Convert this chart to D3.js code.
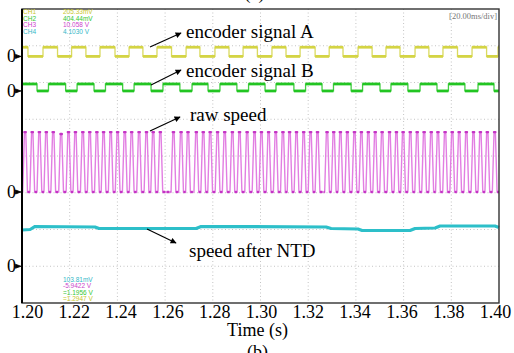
<!DOCTYPE html>
<html>
<head>
<meta charset="utf-8">
<script src="https://cdn.jsdelivr.net/npm/d3@7"></script>
<style>
  body { margin: 0; background: #fff; }
  svg { display: block; }
  .serif { font-family: "Liberation Serif", "Times New Roman", serif; }
  .readout { font-family: "Liberation Sans", Arial, sans-serif; font-size: 6.5px; }
</style>
</head>
<body>
<svg id="chart" width="514" height="353"></svg>
<script>
// ---- time axis (s) ----
const timeTicks = [1.20, 1.22, 1.24, 1.26, 1.28, 1.30, 1.32, 1.34, 1.36, 1.38, 1.40];
const tickLabels = ["1.20", "1.22", "1.24", "1.26", "1.28", "1.30", "1.32", "1.34", "1.36", "1.38", "1.40"];

// ---- encoder A: level at t=1.20 s, then the times (s) at which it toggles ----
const encA_start = 1;
const encA_edges = [1.2025, 1.2088, 1.2149, 1.2208, 1.2268, 1.2327, 1.2390, 1.2449, 1.2507, 1.2566,
  1.2627, 1.2688, 1.2746, 1.2809, 1.2868, 1.2927, 1.2987, 1.3048, 1.3107, 1.3166, 1.3229, 1.3288,
  1.3346, 1.3409, 1.3468, 1.3526, 1.3585, 1.3648, 1.3706, 1.3765, 1.3826, 1.3887, 1.3948, 1.3996];

// ---- encoder B ----
const encB_start = 1;
const encB_edges = [1.2063, 1.2111, 1.2183, 1.2231, 1.2302, 1.2350, 1.2422, 1.2470, 1.2541, 1.2591,
  1.2662, 1.2713, 1.2780, 1.2830, 1.2901, 1.2950, 1.3019, 1.3065, 1.3140, 1.3189, 1.3258, 1.3306,
  1.3380, 1.3428, 1.3501, 1.3547, 1.3618, 1.3669, 1.3740, 1.3788, 1.3857, 1.3912, 1.3979];

// ---- raw speed: pulse centre times (s) and pulse heights (div) ----
const rawPulseTimes = [1.2013, 1.2043, 1.2073, 1.2102, 1.2131, 1.2164, 1.2195, 1.2224, 1.2255, 1.2284,
  1.2314, 1.2342, 1.2372, 1.2401, 1.2431, 1.2460, 1.2491, 1.2522, 1.2550, 1.2580, 1.2635, 1.2667,
  1.2696, 1.2731, 1.2760, 1.2789, 1.2820, 1.2850, 1.2882, 1.2912, 1.2944, 1.2975, 1.3004, 1.3034,
  1.3064, 1.3094, 1.3122, 1.3151, 1.3181, 1.3210, 1.3239, 1.3279, 1.3307, 1.3335, 1.3364, 1.3394,
  1.3423, 1.3452, 1.3481, 1.3510, 1.3541, 1.3570, 1.3598, 1.3628, 1.3657, 1.3686, 1.3716, 1.3744,
  1.3774, 1.3804, 1.3833, 1.3863, 1.3893, 1.3922, 1.3951, 1.3982];
const rawPulseHeights = [1.63, 1.63, 1.63, 1.63, 1.63, 1.58, 1.63, 1.63, 1.63, 1.63,
  1.63, 1.63, 1.63, 1.63, 1.63, 1.63, 1.63, 1.63, 1.63, 1.63, 1.63, 1.63,
  1.63, 1.63, 1.63, 1.63, 1.63, 1.63, 1.63, 1.63, 1.63, 1.63, 1.63, 1.63,
  1.63, 1.63, 1.63, 1.63, 1.63, 1.63, 1.63, 1.63, 1.63, 1.63, 1.63, 1.63,
  1.63, 1.63, 1.63, 1.63, 1.63, 1.63, 1.63, 1.63, 1.63, 1.63, 1.63, 1.63,
  1.63, 1.63, 1.63, 1.63, 1.63, 1.63, 1.63, 1.63];

// ---- speed after NTD (div above its ground marker) ----
const ntdTimes = [1.2000, 1.2034, 1.2055, 1.2306, 1.2323, 1.2730, 1.2751, 1.3275, 1.3296, 1.3409,
  1.3426, 1.3627, 1.3648, 1.3732, 1.3753, 1.3983, 1.4000];
const ntdValues = [0.986, 1.000, 1.082, 1.068, 1.027, 1.027, 1.082, 1.068, 1.027, 1.014,
  0.973, 0.973, 1.027, 1.041, 1.095, 1.095, 1.054];

// ---- channel read-outs ----
const chNames = ["CH1", "CH2", "CH3", "CH4"];
const chScales = ["205.33mV", "404.44mV", "10.058 V", "4.1030 V"];
const cursorValues = ["103.81mV", "-5.9422 V", "=1.1956 V", "=1.2947 V"];

// ---- layout ----
const box = { left: 22, right: 499, top: 9, bottom: 303 };
const colors = { A: "#d4d444", B: "#22c522", rawEdge: "#e27ee2", rawDark: "#c434c4", ntd: "#2dbfc9" };
const ch = {
  A:   { offset: 6.71, gain: 0.25 },
  B:   { offset: 5.77, gain: 0.19 },
  raw: { offset: 3.02 },
  ntd: { offset: 1.00 }
};

const svg = d3.select("#chart");
const x = d3.scaleLinear().domain([1.2, 1.4]).range([box.left, box.right]);
const xLab = d3.scaleLinear().domain([1.2, 1.4]).range([27, 495]);
const y = d3.scaleLinear().domain([0, 8]).range([box.bottom, box.top]);

// ---- graticule ----
const grid = svg.append("g").attr("stroke", "#c4c4c4").attr("stroke-width", 1).attr("stroke-dasharray", "1,2.5");
grid.selectAll(".gv").data(timeTicks.slice(1, -1)).join("line")
  .attr("x1", d => x(d)).attr("x2", d => x(d)).attr("y1", box.top).attr("y2", box.bottom);
grid.selectAll(".gh").data(d3.range(1, 8)).join("line")
  .attr("x1", box.left).attr("x2", box.right).attr("y1", d => y(d)).attr("y2", d => y(d));

// ---- traces ----
function stepPoints(start, edges) {
  const pts = [[1.2, start]];
  let lvl = start;
  edges.forEach(t => { pts.push([t, lvl]); lvl = 1 - lvl; pts.push([t, lvl]); });
  pts.push([1.4, lvl]);
  return pts;
}
function drawEncoder(start, edges, c, color) {
  const pts = stepPoints(start, edges);
  const line = d3.line().x(d => x(d[0])).y(d => y(c.offset + d[1] * c.gain));
  svg.append("path").attr("d", line(pts)).attr("fill", "none")
    .attr("stroke", color).attr("stroke-width", 1.3).attr("opacity", 0.85);
  const segs = [];
  for (let i = 0; i < pts.length - 1; i += 2) segs.push([pts[i], pts[i + 1]]);
  svg.append("g").selectAll("line").data(segs).join("line")
    .attr("x1", d => x(d[0][0])).attr("x2", d => x(d[1][0]))
    .attr("y1", d => y(c.offset + d[0][1] * c.gain)).attr("y2", d => y(c.offset + d[1][1] * c.gain))
    .attr("stroke", color).attr("stroke-width", 2.8);
}
drawEncoder(encA_start, encA_edges, ch.A, colors.A);
drawEncoder(encB_start, encB_edges, ch.B, colors.B);

// raw speed pulses
const baseHalf = 0.0010, topHalf = 0.00028;
const rawPts = [[1.2, 0]];
rawPulseTimes.forEach((t, i) => {
  rawPts.push([t - baseHalf, 0], [t - topHalf, rawPulseHeights[i]], [t + topHalf, rawPulseHeights[i]], [t + baseHalf, 0]);
});
rawPts.push([1.4, 0]);
const rawLine = d3.line().x(d => x(d[0])).y(d => y(ch.raw.offset + d[1]));
svg.append("path").attr("d", rawLine(rawPts)).attr("fill", "none")
  .attr("stroke", colors.rawEdge).attr("stroke-width", 1.4);
// dwell points at the tops and along the base
svg.append("g").selectAll("line").data(rawPulseTimes).join("line")
  .attr("x1", d => x(d - topHalf)).attr("x2", d => x(d + topHalf))
  .attr("y1", (d, i) => y(ch.raw.offset + rawPulseHeights[i])).attr("y2", (d, i) => y(ch.raw.offset + rawPulseHeights[i]))
  .attr("stroke", colors.rawDark).attr("stroke-width", 2.4).attr("stroke-linecap", "round");
const gaps = [[1.2, rawPulseTimes[0] - baseHalf]];
for (let i = 0; i < rawPulseTimes.length - 1; i++) gaps.push([rawPulseTimes[i] + baseHalf, rawPulseTimes[i + 1] - baseHalf]);
gaps.push([rawPulseTimes[rawPulseTimes.length - 1] + baseHalf, 1.4]);
svg.append("g").selectAll("line").data(gaps).join("line")
  .attr("x1", d => x(d[0])).attr("x2", d => x(d[1]))
  .attr("y1", y(ch.raw.offset)).attr("y2", y(ch.raw.offset))
  .attr("stroke", colors.rawDark).attr("stroke-width", 2.4).attr("stroke-dasharray", "2.5,1.5");

// speed after NTD
const ntdLine = d3.line().x((d, i) => x(ntdTimes[i])).y(d => y(ch.ntd.offset + d));
svg.append("path").attr("d", ntdLine(ntdValues)).attr("fill", "none")
  .attr("stroke", colors.ntd).attr("stroke-width", 3.2).attr("stroke-linejoin", "round");

// ---- frame ----
svg.append("rect").attr("x", box.left).attr("y", box.top)
  .attr("width", box.right - box.left).attr("height", box.bottom - box.top)
  .attr("fill", "none").attr("stroke", "#333").attr("stroke-width", 1.4);
svg.append("line").attr("x1", box.left).attr("x2", box.left).attr("y1", box.top).attr("y2", box.bottom)
  .attr("stroke", "#000").attr("stroke-width", 2);

// ---- channel ground markers ----
const grounds = [ch.A.offset, ch.B.offset, ch.raw.offset, ch.ntd.offset];
const gm = svg.append("g");
gm.selectAll("text").data(grounds).join("text").attr("class", "serif")
  .attr("x", 16).attr("y", d => y(d) + 6).attr("text-anchor", "end")
  .attr("font-size", 18).attr("fill", "#000").text("0");
gm.selectAll("path").data(grounds).join("path")
  .attr("d", d => `M15.5,${y(d) - 2}L21,${y(d)}L15.5,${y(d) + 2}Z`)
  .attr("fill", "#000").attr("stroke", "#000").attr("stroke-width", 0.8);

// ---- x axis labels ----
const axis = svg.append("g").attr("transform", `translate(0,${box.bottom})`)
  .call(d3.axisBottom(xLab).tickValues(timeTicks).tickSize(0).tickFormat((d, i) => tickLabels[i]));
axis.select(".domain").remove();
axis.selectAll("text").attr("class", "serif").attr("y", 15).attr("dy", 0)
  .attr("font-size", 18).attr("fill", "#000");

svg.append("text").attr("class", "serif").attr("x", x(1.3) - 3).attr("y", 336)
  .attr("text-anchor", "middle").attr("font-size", 18).text("Time (s)");
svg.append("text").attr("class", "serif").attr("x", x(1.3) - 3).attr("y", 358)
  .attr("text-anchor", "middle").attr("font-size", 18).text("(b)");
svg.append("text").attr("class", "serif").attr("x", x(1.3) - 6).attr("y", -1)
  .attr("text-anchor", "middle").attr("font-size", 18).text("(a)");

// ---- read-outs ----
const chColors = ["#c8c82e", "#33c833", "#cc44cc", "#33b8c8"];
const ro = svg.append("g").attr("class", "readout");
ro.selectAll(".n").data(chNames).join("text")
  .attr("x", 23).attr("y", (d, i) => 14 + i * 6.6).attr("fill", (d, i) => chColors[i]).text(d => d);
ro.selectAll(".s").data(chScales).join("text")
  .attr("x", 63).attr("y", (d, i) => 14 + i * 6.6).attr("fill", (d, i) => chColors[i]).text(d => d);
const cursorColors = [chColors[3], chColors[2], chColors[1], chColors[0]];
ro.selectAll(".c").data(cursorValues).join("text")
  .attr("x", 63).attr("y", (d, i) => 281.5 + i * 6.6).attr("fill", (d, i) => cursorColors[i]).text(d => d);
svg.append("text").attr("class", "serif").attr("x", 497).attr("y", 19).attr("text-anchor", "end")
  .attr("font-size", 8.5).attr("fill", "#777").text("[20.00ms/div]");

// ---- annotations ----
svg.append("defs").append("marker").attr("id", "ah")
  .attr("viewBox", "0 0 10 10").attr("refX", 9).attr("refY", 5)
  .attr("markerWidth", 7).attr("markerHeight", 6).attr("markerUnits", "userSpaceOnUse")
  .attr("orient", "auto").append("path").attr("d", "M0,0L10,5L0,10Z").attr("fill", "#000");

const notes = [
  { label: "encoder signal A", tail: [1.25367, 6.966], head: [1.26667, 7.347], at: [1.26876, 7.211] },
  { label: "encoder signal B", tail: [1.25409, 5.932], head: [1.26667, 6.340], at: [1.26876, 6.150] },
  { label: "raw speed",        tail: [1.25367, 4.680], head: [1.26625, 5.061], at: [1.27044, 4.952] },
  { label: "speed after NTD",  tail: [1.25241, 2.014], head: [1.26458, 1.633], at: [1.27002, 1.252] }
];
const ng = svg.append("g");
ng.selectAll("line").data(notes).join("line")
  .attr("x1", d => x(d.tail[0])).attr("y1", d => y(d.tail[1]))
  .attr("x2", d => x(d.head[0])).attr("y2", d => y(d.head[1]))
  .attr("stroke", "#000").attr("stroke-width", 1.2).attr("marker-end", "url(#ah)");
ng.selectAll("text").data(notes).join("text").attr("class", "serif")
  .attr("x", d => x(d.at[0])).attr("y", d => y(d.at[1]))
  .attr("font-size", 19).attr("fill", "#000").text(d => d.label);
</script>
</body>
</html>
